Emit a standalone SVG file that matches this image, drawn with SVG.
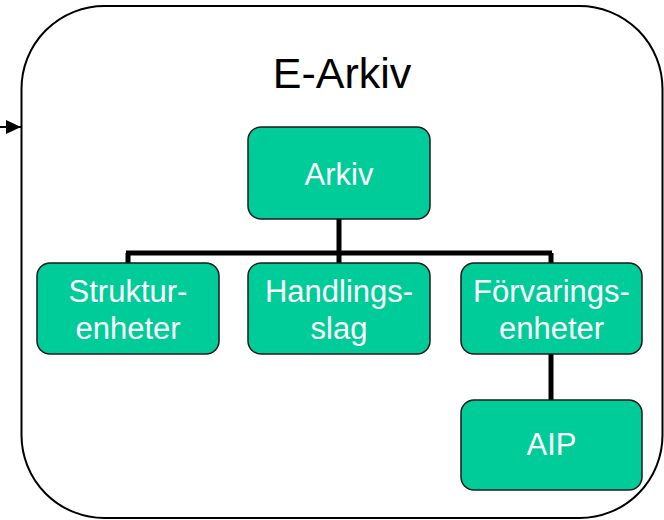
<svg xmlns="http://www.w3.org/2000/svg" width="664" height="520" viewBox="0 0 664 520">
<style>
.node rect{fill:#00CC99;stroke:#1a1a1a;stroke-width:1.5}
.node text{fill:#ffffff;font-family:"Liberation Sans",Arial,sans-serif;font-size:31px;text-anchor:middle}
.conn{stroke:#000;stroke-width:5;fill:none}
</style>
<defs>
<marker id="arr" markerWidth="16" markerHeight="14" refX="15" refY="7" orient="auto" markerUnits="userSpaceOnUse">
<path d="M0,0 L15,7 L0,14 Z" fill="#000"/>
</marker>
</defs>
<g id="container">
<rect x="21.5" y="6" width="641" height="512" rx="83" ry="83" fill="#fff" stroke="#000" stroke-width="2"/>
<text x="342" y="88" font-family="Liberation Sans,Arial,sans-serif" font-size="43" text-anchor="middle" fill="#000">E-Arkiv</text>
</g>
<g id="connectors">
<path d="M0,127 L21,127" stroke="#000" stroke-width="2" marker-end="url(#arr)" fill="none"/>
<path class="conn" d="M339,219 V253"/>
<path class="conn" d="M126,253 H552"/>
<path class="conn" d="M128,253 V263"/>
<path class="conn" d="M339,253 V263"/>
<path class="conn" d="M551,253 V263"/>
<path class="conn" d="M551,354 V400"/>
</g>
<g id="arkiv" class="node">
<rect x="248" y="127" width="182" height="92" rx="13"/>
<text x="339" y="185">Arkiv</text>
</g>
<g id="strukturenheter" class="node">
<rect x="37" y="263" width="182" height="91" rx="13"/>
<text x="128" y="302">Struktur-</text>
<text x="128" y="339">enheter</text>
</g>
<g id="handlingsslag" class="node">
<rect x="248" y="263" width="182" height="91" rx="13"/>
<text x="339" y="302">Handlings-</text>
<text x="339" y="339">slag</text>
</g>
<g id="forvaringsenheter" class="node">
<rect x="461" y="263" width="181" height="91" rx="13"/>
<text x="551.5" y="302">Förvarings-</text>
<text x="551.5" y="339">enheter</text>
</g>
<g id="aip" class="node">
<rect x="461" y="400" width="181" height="90" rx="13"/>
<text x="551.5" y="455">AIP</text>
</g>
</svg>
